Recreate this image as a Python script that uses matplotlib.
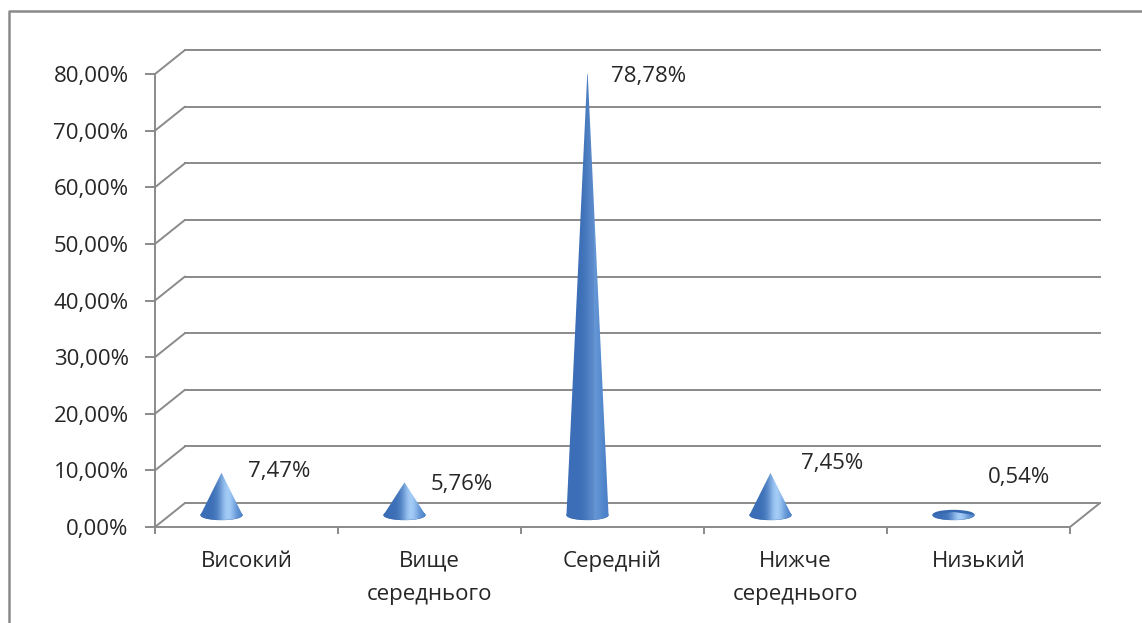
import numpy as np
import matplotlib
matplotlib.use('Agg')
import matplotlib.pyplot as plt
from matplotlib import transforms
from matplotlib.colors import to_rgb
from matplotlib.patches import Ellipse, ConnectionPatch, Polygon
from matplotlib.lines import Line2D

# data
categories = ['Високий', 'Вище\nсереднього', 'Середній', 'Нижче\nсереднього', 'Низький']
values = [7.47, 5.76, 78.78, 7.45, 0.54]
value_labels = ['7,47%', '5,76%', '78,78%', '7,45%', '0,54%']
yticks = [0, 10, 20, 30, 40, 50, 60, 70, 80]
ytick_labels = ['0,00%', '10,00%', '20,00%', '30,00%', '40,00%',
                '50,00%', '60,00%', '70,00%', '80,00%']

# label nudges (points) to mimic the excel placement
label_nudge = [(19, 0.7), (19, -1.4), (17, -5.8), (22, 6.5), (25, 24.5)]

plt.rcParams['font.family'] = ['Open Sans', 'DejaVu Sans']
GRAY = '#8a8a8a'
TXT = '#262626'
FS = 16

W, H = 1142, 623
fig = plt.figure(figsize=(W / 100, H / 100), dpi=100)
ax = fig.add_axes([155 / W, 96 / H, 915 / W, 453 / H])
ax.set_xlim(0, 5)
ax.set_ylim(0, 80)
ax.set_autoscale_on(False)
ax.patch.set_visible(False)

for s in ['top', 'right']:
    ax.spines[s].set_visible(False)
for s in ['left', 'bottom']:
    ax.spines[s].set_color(GRAY)
    ax.spines[s].set_linewidth(1.4)

ax.set_yticks(yticks)
ax.set_yticklabels(ytick_labels, fontsize=FS, color=TXT)
ax.tick_params(axis='y', length=7, width=1.4, color=GRAY, pad=12)

ax.set_xticks(np.arange(6))
ax.set_xticklabels([])
ax.set_xticks(np.arange(5) + 0.5, minor=True)
ax.set_xticklabels(categories, minor=True, fontsize=FS, color=TXT)
ax.tick_params(axis='x', which='major', length=5, width=1.4, color=GRAY)
ax.tick_params(axis='x', which='minor', length=0, pad=17)
for lbl in ax.get_xticklabels(minor=True):
    lbl.set_linespacing(1.75)

# 3d depth: back wall is shifted right / up
back = transforms.offset_copy(ax.transData, fig=fig, x=30, y=24, units='dots')
for v in yticks:
    ax.plot([0, 5], [v, v], transform=back, color=GRAY, lw=1.4, clip_on=False, zorder=1)
    ax.add_artist(ConnectionPatch((0, v), (0, v), coordsA=ax.transData, coordsB=back,
                                  color=GRAY, lw=1.4, zorder=1))
ax.add_artist(ConnectionPatch((5, 0), (5, 0), coordsA=ax.transData, coordsB=back,
                              color=GRAY, lw=1.4, zorder=1))

# cones, sitting in the middle of the depth
cone_tr = transforms.offset_copy(ax.transData, fig=fig, x=-25, y=12, units='dots')
left_c = np.array(to_rgb('#3b6eb6'))
right_c = np.array(to_rgb('#4a80c8'))
light = np.array(to_rgb('#a3cbf6'))
a, b = 0.115, 0.88
th = np.linspace(np.pi, 2 * np.pi, 60)
t = np.linspace(-1, 1, 200)

for i, v in enumerate(values):
    cx = i + 0.5
    ax.add_patch(Ellipse((cx, 0), 2 * a * 0.97, 2 * b * 0.9, transform=cone_tr,
                         color='#3568ae', zorder=3, clip_on=False))

    # gradient across the cone, highlight a bit right of centre
    strength = 1.0 if v < 20 else 0.3
    hi = strength * np.exp(-((t - 0.3) / 0.4) ** 2)
    base = np.where(t[:, None] < 0.3, left_c, right_c)
    row = base + (light - base) * hi[:, None]
    img = np.repeat(row[None, :, :], 2, axis=0)

    outline = [(cx, v)] + [(cx + a * np.cos(q), b * np.sin(q)) for q in th]
    clip = Polygon(outline, closed=True, transform=cone_tr, fill=False, lw=0)
    ax.add_patch(clip)
    im = ax.imshow(img, extent=(cx - a, cx + a, -b, v), transform=cone_tr,
                   aspect='auto', interpolation='bilinear', zorder=4)
    im.set_clip_path(clip)
    im.set_clip_box(None)

    dx, dy = label_nudge[i]
    ax.annotate(value_labels[i], (cx, v), xycoords=cone_tr, xytext=(dx, dy),
                textcoords='offset points', ha='left', va='center',
                fontsize=FS, color=TXT, zorder=5)

ax.set_xlim(0, 5)
ax.set_ylim(0, 80)

# outer frame (top and left edge only)
fig.add_artist(Line2D([9 / W, 9 / W, 1], [0, 1 - 11 / H, 1 - 11 / H],
                      transform=fig.transFigure, color=GRAY, lw=1.8))

fig.savefig('out.png', dpi=100)
